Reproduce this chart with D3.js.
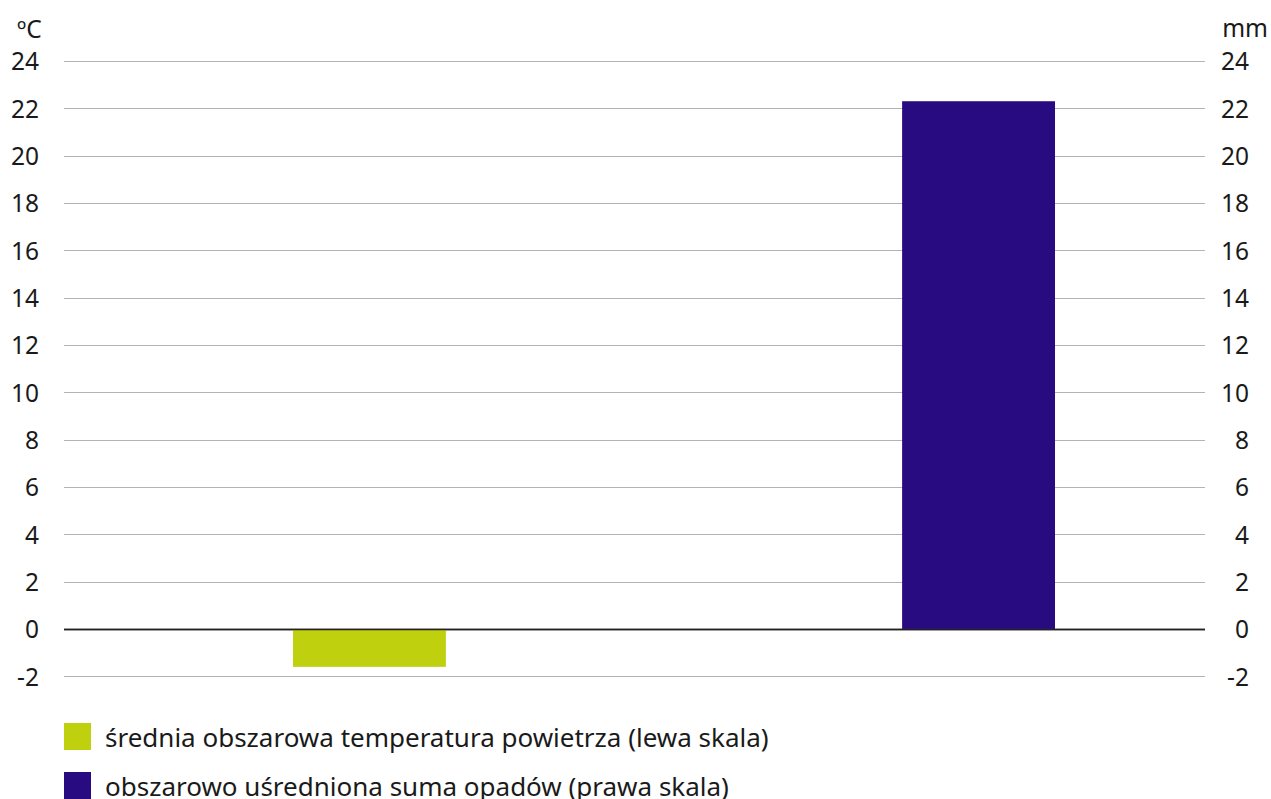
<!DOCTYPE html>
<html>
<head>
<meta charset="utf-8">
<script src="https://cdn.jsdelivr.net/npm/d3@7"></script>
<style>
  body { margin: 0; background: #fff; }
  text { font-family: "Noto Sans", "Open Sans", sans-serif; fill: #1a1a1a; }
</style>
</head>
<body>
<div id="chart"></div>
<script>
var categories = ["temperatura", "opady"];
var seriesLabels = ["średnia obszarowa temperatura powietrza (lewa skala)", "obszarowo uśredniona suma opadów (prawa skala)"];
var seriesValues = [-1.6, 22.3];
var seriesColors = ["#bfd00f", "#280b80"];
var tickValues = [-2, 0, 2, 4, 6, 8, 10, 12, 14, 16, 18, 20, 22, 24];

function drawChart() {
    var W = 1271, H = 799;
    var plotLeft = 64, plotRight = 1205;

    var svg = d3.select("#chart").append("svg")
        .attr("width", W)
        .attr("height", H);

    var yLeft = d3.scaleLinear().domain([-2, 24]).range([676.3, 61]);
    var yRight = d3.scaleLinear().domain([-2, 24]).range([676.3, 61]);

    var x = d3.scaleBand()
        .domain(categories)
        .range([293, 1055])
        .paddingInner(0.749)
        .paddingOuter(0);

    // gridlines
    svg.append("g")
        .selectAll("line")
        .data(tickValues)
        .enter().append("line")
        .attr("x1", plotLeft)
        .attr("x2", plotRight)
        .attr("y1", function(d) { return Math.round(yLeft(d)) + 0.5; })
        .attr("y2", function(d) { return Math.round(yLeft(d)) + 0.5; })
        .attr("stroke", function(d) { return d === 0 ? "#222" : "#b3b3b3"; })
        .attr("stroke-width", function(d) { return d === 0 ? 1.4 : 1.2; });

    // bars
    svg.append("g")
        .selectAll("rect")
        .data(seriesValues)
        .enter().append("rect")
        .attr("x", function(d, i) { return x(categories[i]); })
        .attr("width", x.bandwidth())
        .attr("y", function(d, i) {
            var s = i === 0 ? yLeft : yRight;
            return Math.min(s(d), s(0));
        })
        .attr("height", function(d, i) {
            var s = i === 0 ? yLeft : yRight;
            return Math.abs(s(d) - s(0));
        })
        .attr("fill", function(d, i) { return seriesColors[i]; });

    // zero line on top of bars
    svg.append("line")
        .attr("x1", plotLeft).attr("x2", plotRight)
        .attr("y1", Math.round(yLeft(0)) + 0.5).attr("y2", Math.round(yLeft(0)) + 0.5)
        .attr("stroke", "#222").attr("stroke-width", 1.4);

    var fmt = function(d) { return String(d); };

    // left axis
    var left = svg.append("g")
        .attr("transform", "translate(39,0)")
        .call(d3.axisLeft(yLeft).tickValues(tickValues).tickSize(0).tickPadding(0).tickFormat(fmt));
    left.select(".domain").remove();
    left.selectAll("text").style("font-size", "24.5px").attr("fill", "#1a1a1a").attr("dy", "0.36em");

    // right axis (labels right-aligned)
    var right = svg.append("g")
        .attr("transform", "translate(1249,0)")
        .call(d3.axisLeft(yRight).tickValues(tickValues).tickSize(0).tickPadding(0).tickFormat(fmt));
    right.select(".domain").remove();
    right.selectAll("text").style("font-size", "24.5px").attr("fill", "#1a1a1a").attr("dy", "0.36em");

    // units
    svg.append("text").attr("x", 17).attr("y", 38).style("font-size", "24.5px").text("ºC");
    svg.append("text").attr("x", 1268).attr("y", 37).attr("text-anchor", "end").style("font-size", "24.5px").text("mm");

    // legend
    var legend = svg.append("g");
    seriesLabels.forEach(function(label, i) {
        var yPos = 723 + i * 49;
        legend.append("rect")
            .attr("x", 64).attr("y", yPos)
            .attr("width", 27).attr("height", 27)
            .attr("fill", seriesColors[i]);
        legend.append("text")
            .attr("x", 105).attr("y", yPos + 24)
            .style("font-size", "26px")
            .text(label);
    });
}

drawChart();
</script>
</body>
</html>
